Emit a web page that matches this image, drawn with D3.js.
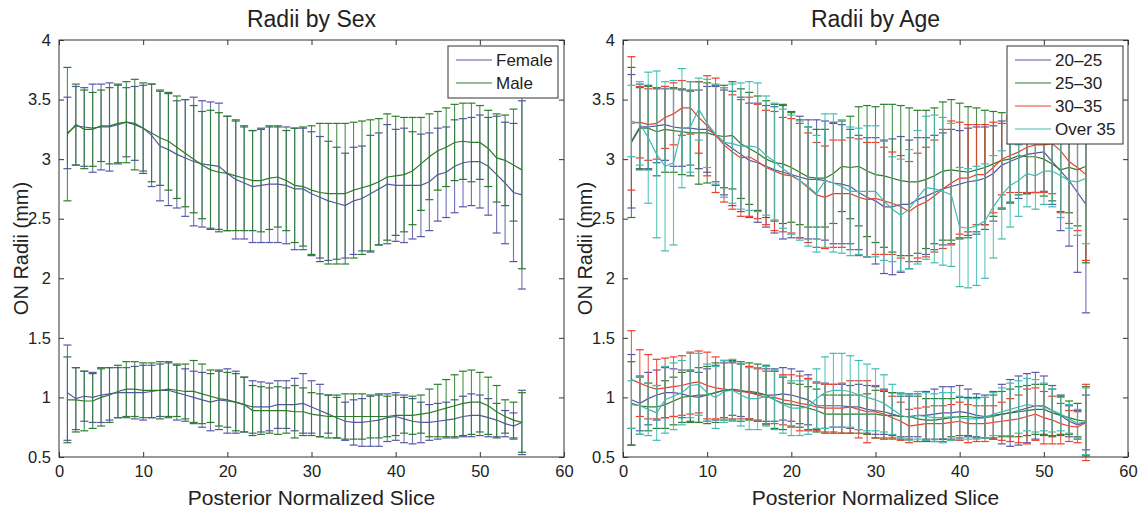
<!DOCTYPE html>
<html><head><meta charset="utf-8">
<script src="https://cdn.jsdelivr.net/npm/d3@7"></script>
<style>
html,body{margin:0;padding:0;background:#fff;}
svg text{font-family:"Liberation Sans",Arial,Helvetica,sans-serif;fill:#222;}
</style></head>
<body><svg id="chart" width="1138" height="514"></svg>
<script>
// ---------- data ----------
const slices = d3.range(1, 56);
const xTicks = [0, 10, 20, 30, 40, 50, 60];
const yTicks = [0.5, 1, 1.5, 2, 2.5, 3, 3.5, 4];
const yTickLabels = ["0.5", "1", "1.5", "2", "2.5", "3", "3.5", "4"];

const sexNames = ["Female", "Male"];
const ageNames = ["20\u201325", "25\u201330", "30\u201335", "Over 35"];

// Radii by Sex, outer (upper) group
const femaleUpMean = [3.22,3.28,3.27,3.26,3.27,3.27,3.29,3.31,3.30,3.26,3.20,3.11,3.08,3.04,3.01,2.98,2.96,2.95,2.94,2.88,2.83,2.80,2.77,2.78,2.79,2.79,2.78,2.75,2.75,2.71,2.68,2.65,2.63,2.61,2.65,2.67,2.71,2.75,2.79,2.78,2.78,2.78,2.78,2.81,2.87,2.89,2.94,2.97,2.98,2.98,2.94,2.87,2.80,2.72,2.70];
const femaleUpErr  = [0.30,0.33,0.33,0.37,0.36,0.37,0.33,0.29,0.31,0.36,0.43,0.46,0.47,0.45,0.49,0.54,0.53,0.53,0.53,0.48,0.50,0.47,0.47,0.48,0.49,0.49,0.49,0.51,0.51,0.52,0.51,0.50,0.47,0.44,0.45,0.44,0.49,0.47,0.50,0.47,0.48,0.45,0.43,0.41,0.39,0.38,0.39,0.37,0.37,0.39,0.41,0.49,0.51,0.58,0.79];
const maleUpMean   = [3.21,3.29,3.25,3.25,3.28,3.28,3.30,3.31,3.29,3.26,3.22,3.18,3.15,3.10,3.05,3.00,2.95,2.91,2.89,2.88,2.86,2.84,2.82,2.82,2.84,2.85,2.82,2.78,2.77,2.74,2.72,2.71,2.71,2.71,2.74,2.76,2.78,2.81,2.85,2.86,2.87,2.90,2.96,3.02,3.07,3.10,3.14,3.15,3.14,3.14,3.09,3.01,2.99,2.95,2.91];
const maleUpErr    = [0.56,0.34,0.33,0.31,0.30,0.32,0.33,0.34,0.38,0.38,0.41,0.40,0.41,0.43,0.45,0.45,0.45,0.50,0.50,0.48,0.46,0.44,0.42,0.43,0.43,0.42,0.42,0.48,0.50,0.54,0.58,0.59,0.59,0.59,0.57,0.56,0.55,0.53,0.53,0.50,0.48,0.45,0.39,0.36,0.33,0.33,0.32,0.32,0.33,0.31,0.32,0.37,0.38,0.47,0.83];
// Radii by Sex, inner (lower) group
const femaleLoMean = [1.04,0.99,1.01,1.00,1.02,1.03,1.04,1.04,1.04,1.04,1.05,1.06,1.06,1.04,1.02,1.00,0.98,0.96,0.98,0.97,0.96,0.94,0.92,0.92,0.92,0.94,0.94,0.94,0.95,0.92,0.89,0.86,0.83,0.80,0.79,0.79,0.80,0.81,0.83,0.84,0.82,0.80,0.79,0.79,0.80,0.81,0.82,0.84,0.85,0.85,0.83,0.81,0.78,0.76,0.79];
const femaleLoErr  = [0.40,0.26,0.21,0.21,0.23,0.22,0.21,0.21,0.22,0.23,0.22,0.22,0.23,0.23,0.22,0.22,0.23,0.24,0.25,0.27,0.26,0.23,0.22,0.21,0.20,0.20,0.20,0.22,0.25,0.22,0.22,0.16,0.17,0.16,0.19,0.20,0.21,0.22,0.20,0.20,0.20,0.19,0.17,0.15,0.15,0.15,0.16,0.17,0.18,0.17,0.16,0.14,0.11,0.11,0.27];
const maleLoMean   = [0.98,0.98,0.97,0.97,1.00,1.02,1.05,1.07,1.07,1.06,1.06,1.06,1.07,1.06,1.05,1.05,1.03,1.01,0.99,0.98,0.96,0.94,0.89,0.89,0.89,0.89,0.89,0.88,0.88,0.86,0.85,0.84,0.84,0.84,0.84,0.84,0.84,0.84,0.84,0.85,0.85,0.85,0.86,0.87,0.89,0.91,0.93,0.95,0.96,0.96,0.93,0.88,0.84,0.81,0.79];
const maleLoErr    = [0.36,0.27,0.25,0.23,0.24,0.23,0.22,0.23,0.23,0.23,0.23,0.24,0.23,0.22,0.23,0.26,0.25,0.22,0.23,0.23,0.24,0.23,0.21,0.20,0.19,0.20,0.19,0.22,0.20,0.18,0.18,0.18,0.18,0.19,0.19,0.19,0.18,0.18,0.17,0.17,0.15,0.16,0.16,0.20,0.22,0.24,0.26,0.27,0.27,0.25,0.24,0.22,0.14,0.15,0.25];

// Radii by Age, outer (upper) group
const a1UpMean = [3.15,3.27,3.27,3.28,3.29,3.27,3.26,3.26,3.25,3.25,3.21,3.14,3.09,3.04,2.99,2.97,2.94,2.91,2.89,2.87,2.85,2.83,2.83,2.82,2.80,2.79,2.77,2.72,2.68,2.65,2.60,2.60,2.62,2.62,2.66,2.69,2.72,2.75,2.77,2.79,2.81,2.82,2.84,2.88,2.95,2.98,3.01,3.04,3.05,3.06,2.98,2.90,2.82,2.72,2.62];
const a1UpErr  = [0.56,0.36,0.35,0.31,0.30,0.33,0.32,0.31,0.33,0.36,0.40,0.44,0.48,0.48,0.48,0.50,0.51,0.53,0.56,0.53,0.51,0.50,0.50,0.50,0.51,0.50,0.48,0.48,0.50,0.53,0.56,0.57,0.57,0.54,0.52,0.49,0.48,0.47,0.48,0.45,0.45,0.45,0.43,0.40,0.37,0.35,0.34,0.33,0.33,0.33,0.36,0.50,0.55,0.67,0.91];
const a2UpMean = [3.14,3.26,3.26,3.23,3.25,3.24,3.23,3.22,3.22,3.22,3.20,3.19,3.20,3.13,3.09,3.05,3.00,2.97,2.96,2.93,2.89,2.85,2.84,2.84,2.88,2.94,2.93,2.94,2.90,2.87,2.86,2.84,2.82,2.81,2.81,2.83,2.86,2.90,2.91,2.90,2.89,2.91,2.93,2.96,2.99,3.00,3.03,3.02,3.02,3.00,2.96,2.91,2.93,2.91,2.94];
const a2UpErr  = [0.63,0.34,0.35,0.37,0.36,0.35,0.36,0.36,0.43,0.42,0.42,0.43,0.45,0.46,0.47,0.48,0.49,0.49,0.50,0.46,0.44,0.42,0.41,0.41,0.42,0.38,0.43,0.50,0.55,0.57,0.60,0.62,0.63,0.62,0.60,0.58,0.57,0.58,0.59,0.57,0.55,0.52,0.48,0.44,0.40,0.36,0.33,0.31,0.30,0.31,0.31,0.35,0.38,0.47,0.81];
const a3UpMean = [3.30,3.31,3.29,3.30,3.35,3.38,3.43,3.43,3.35,3.28,3.20,3.12,3.06,3.01,3.02,2.98,2.93,2.90,2.87,2.86,2.82,2.76,2.70,2.68,2.71,2.71,2.71,2.68,2.66,2.67,2.65,2.63,2.60,2.56,2.61,2.64,2.69,2.75,2.80,2.84,2.84,2.87,2.87,2.93,3.00,3.03,3.06,3.10,3.12,3.12,3.13,3.07,2.98,2.93,2.87];
const a3UpErr  = [0.56,0.30,0.30,0.30,0.26,0.26,0.23,0.22,0.30,0.42,0.48,0.48,0.48,0.49,0.50,0.48,0.48,0.50,0.48,0.48,0.48,0.46,0.44,0.43,0.45,0.45,0.47,0.49,0.48,0.47,0.45,0.43,0.43,0.42,0.44,0.46,0.47,0.50,0.52,0.47,0.45,0.42,0.42,0.38,0.30,0.31,0.34,0.38,0.40,0.40,0.42,0.52,0.52,0.53,0.72];
const a4UpMean = [3.32,3.30,3.18,3.04,2.94,2.97,3.26,3.27,3.42,3.30,3.21,3.14,3.13,3.11,3.11,3.10,3.03,2.98,2.92,2.87,2.82,2.77,2.71,2.82,2.80,2.77,2.73,2.73,2.73,2.73,2.65,2.58,2.53,2.58,2.68,2.76,2.75,2.73,2.70,2.43,2.42,2.44,2.48,2.60,2.70,2.78,2.82,2.88,2.86,2.90,2.90,2.86,2.82,2.81,2.84];
const a4UpErr  = [0.30,0.35,0.55,0.70,0.71,0.69,0.50,0.38,0.26,0.37,0.42,0.46,0.50,0.53,0.54,0.54,0.50,0.49,0.50,0.50,0.50,0.50,0.49,0.56,0.58,0.56,0.54,0.53,0.55,0.55,0.50,0.44,0.47,0.50,0.56,0.60,0.62,0.62,0.60,0.50,0.50,0.50,0.48,0.43,0.37,0.35,0.30,0.28,0.28,0.28,0.30,0.35,0.40,0.45,0.55];
// Radii by Age, inner (lower) group
const a1LoMean = [0.98,0.95,0.99,1.02,1.04,1.04,1.03,1.01,1.00,1.02,1.04,1.06,1.07,1.06,1.04,1.03,1.02,1.02,1.03,1.02,1.00,0.98,0.93,0.93,0.93,0.93,0.92,0.92,0.90,0.89,0.88,0.86,0.84,0.84,0.85,0.85,0.86,0.87,0.87,0.88,0.87,0.85,0.84,0.85,0.86,0.87,0.89,0.91,0.93,0.93,0.89,0.85,0.80,0.77,0.79];
const a1LoErr  = [0.38,0.23,0.22,0.21,0.21,0.20,0.20,0.21,0.21,0.22,0.23,0.23,0.22,0.22,0.22,0.22,0.22,0.22,0.22,0.22,0.22,0.21,0.20,0.19,0.18,0.18,0.18,0.19,0.20,0.20,0.19,0.18,0.17,0.17,0.18,0.20,0.21,0.22,0.22,0.22,0.20,0.18,0.18,0.20,0.25,0.28,0.29,0.29,0.28,0.25,0.21,0.17,0.13,0.12,0.23];
const a2LoMean = [0.95,0.93,0.92,0.92,0.94,0.97,1.00,1.01,1.02,1.02,1.04,1.06,1.06,1.05,1.05,1.04,1.02,0.98,0.95,0.94,0.93,0.91,0.89,0.86,0.86,0.86,0.86,0.86,0.86,0.86,0.85,0.85,0.84,0.84,0.82,0.81,0.81,0.82,0.83,0.84,0.84,0.83,0.83,0.84,0.86,0.87,0.88,0.89,0.90,0.90,0.87,0.85,0.83,0.81,0.80];
const a2LoErr  = [0.35,0.24,0.20,0.18,0.20,0.20,0.21,0.22,0.23,0.24,0.25,0.25,0.25,0.25,0.24,0.24,0.25,0.24,0.22,0.18,0.18,0.18,0.18,0.16,0.16,0.16,0.16,0.16,0.17,0.20,0.20,0.19,0.19,0.19,0.19,0.18,0.18,0.17,0.16,0.16,0.16,0.17,0.17,0.18,0.19,0.20,0.21,0.21,0.21,0.21,0.20,0.16,0.14,0.14,0.29];
const a3LoMean = [1.15,1.12,1.09,1.07,1.08,1.09,1.10,1.12,1.13,1.10,1.08,1.07,1.06,1.05,1.04,1.02,1.00,1.00,0.98,0.97,0.95,0.94,0.92,0.91,0.91,0.91,0.92,0.90,0.88,0.88,0.86,0.83,0.80,0.76,0.77,0.78,0.78,0.78,0.79,0.80,0.78,0.78,0.78,0.79,0.80,0.81,0.82,0.84,0.86,0.83,0.81,0.78,0.76,0.75,0.79];
const a3LoErr  = [0.41,0.28,0.27,0.25,0.25,0.25,0.25,0.26,0.26,0.28,0.26,0.24,0.24,0.23,0.22,0.22,0.22,0.22,0.21,0.22,0.23,0.22,0.20,0.20,0.20,0.21,0.22,0.24,0.26,0.22,0.20,0.18,0.16,0.14,0.14,0.14,0.15,0.15,0.15,0.16,0.16,0.15,0.15,0.14,0.16,0.18,0.20,0.23,0.22,0.22,0.20,0.17,0.13,0.13,0.32];
const a4LoMean = [0.94,0.93,0.90,0.87,0.98,1.01,1.04,1.10,1.11,1.04,1.00,1.05,1.06,1.02,0.99,0.99,1.01,0.98,0.94,0.91,0.91,0.92,0.99,1.04,1.06,1.06,1.05,1.02,1.00,0.98,0.95,0.90,0.85,0.83,0.85,0.84,0.83,0.83,0.84,0.83,0.82,0.82,0.83,0.86,0.88,0.90,0.92,0.94,0.93,0.92,0.89,0.86,0.82,0.78,0.80];
const a4LoErr  = [0.20,0.24,0.22,0.23,0.28,0.28,0.27,0.27,0.26,0.24,0.26,0.26,0.26,0.26,0.26,0.26,0.25,0.25,0.24,0.23,0.23,0.23,0.25,0.30,0.31,0.31,0.30,0.29,0.28,0.26,0.24,0.21,0.19,0.19,0.20,0.20,0.20,0.21,0.20,0.18,0.17,0.17,0.17,0.18,0.20,0.22,0.22,0.22,0.22,0.20,0.18,0.14,0.12,0.12,0.28];

// ---------- drawing ----------
const C_PURPLE = "#5656a8", C_GREEN = "#2b7d2b", C_RED = "#ec3e2a", C_TEAL = "#3fbcb2";
const svg = d3.select("#chart");
const plotTop = 40, plotBottom = 457;

function drawPanel(left, right, title, groups, names, colors, legendBox) {
  const x = d3.scaleLinear().domain([0, 60]).range([left, right]);
  const y = d3.scaleLinear().domain([0.5, 4]).range([plotBottom, plotTop]);
  const g = svg.append("g");

  groups.forEach((grp) => {
    grp.forEach((s, si) => {
      const col = colors[si];
      const sg = g.append("g").attr("stroke", col).attr("fill", "none");
      slices.forEach((sl, i) => {
        const m = s.mean[i], e = s.err[i];
        const px = x(sl);
        sg.append("line").attr("x1", px).attr("x2", px)
          .attr("y1", y(m - e)).attr("y2", y(m + e))
          .attr("stroke-width", 1.1).attr("stroke-opacity", 0.85);
        [m - e, m + e].forEach(v => {
          sg.append("line").attr("x1", px - 4).attr("x2", px + 4)
            .attr("y1", y(v)).attr("y2", y(v)).attr("stroke-width", 1.2);
        });
      });
      sg.append("path")
        .attr("d", d3.line().x(d => x(d)).y((d, i) => y(s.mean[i]))(slices))
        .attr("stroke-width", 1.2);
    });
  });

  g.append("rect").attr("x", left).attr("y", plotTop).attr("width", right - left).attr("height", plotBottom - plotTop)
    .attr("fill", "none").attr("stroke", "#333").attr("stroke-width", 1);

  const axB = d3.axisBottom(x).tickValues(xTicks).tickSizeInner(-5).tickSizeOuter(0).tickPadding(8);
  const axT = d3.axisTop(x).tickValues(xTicks).tickSizeInner(-5).tickSizeOuter(0).tickFormat("");
  const axL = d3.axisLeft(y).tickValues(yTicks).tickSizeInner(-5).tickSizeOuter(0).tickPadding(8)
    .tickFormat((d, i) => yTickLabels[i]);
  const axR = d3.axisRight(y).tickValues(yTicks).tickSizeInner(-5).tickSizeOuter(0).tickFormat("");
  [[axB, `translate(0,${plotBottom})`], [axT, `translate(0,${plotTop})`], [axL, `translate(${left},0)`], [axR, `translate(${right},0)`]]
    .forEach(([ax, tr]) => {
      const a = g.append("g").attr("transform", tr).call(ax);
      a.select(".domain").remove();
      a.selectAll(".tick line").attr("stroke", "#333");
      a.selectAll("text").attr("font-size", 16.5).attr("fill", "#222");
    });

  g.append("text").attr("x", (left + right) / 2).attr("y", 27).attr("text-anchor", "middle")
    .attr("font-size", 23).text(title);
  g.append("text").attr("x", (left + right) / 2).attr("y", 505).attr("text-anchor", "middle")
    .attr("font-size", 21).text("Posterior Normalized Slice");
  g.append("text").attr("transform", `translate(${left - 31},${(plotTop + plotBottom) / 2}) rotate(-90)`)
    .attr("text-anchor", "middle").attr("font-size", 20).text("ON Radii (mm)");

  const lg = g.append("g");
  lg.append("rect").attr("x", legendBox.x).attr("y", legendBox.y).attr("width", legendBox.w)
    .attr("height", 6 + names.length * 23).attr("fill", "#fff").attr("stroke", "#333").attr("stroke-width", 1);
  names.forEach((n, i) => {
    const cy = legendBox.y + 14 + i * 23;
    lg.append("line").attr("x1", legendBox.x + 8).attr("x2", legendBox.x + 44).attr("y1", cy).attr("y2", cy)
      .attr("stroke", colors[i]).attr("stroke-width", 1.2);
    lg.append("text").attr("x", legendBox.x + 48).attr("y", cy + 6).attr("font-size", 17).text(n);
  });
}

drawPanel(59, 564, "Radii by Sex", [
  [{mean: femaleUpMean, err: femaleUpErr}, {mean: maleUpMean, err: maleUpErr}],
  [{mean: femaleLoMean, err: femaleLoErr}, {mean: maleLoMean, err: maleLoErr}]
], sexNames, [C_PURPLE, C_GREEN], {x: 448, y: 46, w: 110});

drawPanel(623, 1128, "Radii by Age", [
  [{mean: a1UpMean, err: a1UpErr}, {mean: a2UpMean, err: a2UpErr}, {mean: a3UpMean, err: a3UpErr}, {mean: a4UpMean, err: a4UpErr}],
  [{mean: a1LoMean, err: a1LoErr}, {mean: a2LoMean, err: a2LoErr}, {mean: a3LoMean, err: a3LoErr}, {mean: a4LoMean, err: a4LoErr}]
], ageNames, [C_PURPLE, C_GREEN, C_RED, C_TEAL], {x: 1007, y: 46, w: 116});
</script></body></html>
